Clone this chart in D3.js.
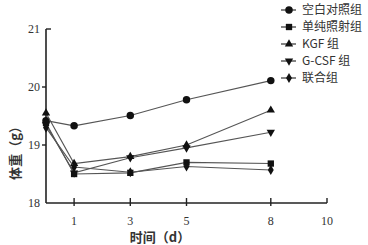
<!DOCTYPE html>
<html>
<head>
<meta charset="utf-8">
<script src="https://cdn.jsdelivr.net/npm/d3@7"></script>
<style>
body { margin: 0; background: #fff; }
svg { display: block; }
</style>
</head>
<body>
<script>
var days = [0, 1, 3, 5, 8];
var xTicks = [1, 3, 5, 8, 10];
var yTicks = [18, 19, 20, 21];
var groupNames = ["空白对照组", "单纯照射组", "KGF 组", "G-CSF 组", "联合组"];
var control = [19.42, 19.33, 19.51, 19.78, 20.11];
var single = [19.38, 18.50, 18.52, 18.70, 18.68];
var kgf = [19.55, 18.68, 18.80, 19.00, 19.60];
var gcsf = [19.35, 18.52, 18.78, 18.95, 19.22];
var combined = [19.30, 18.62, 18.53, 18.63, 18.57];

var series = [control, single, kgf, gcsf, combined];
var symbols = [d3.symbolCircle, d3.symbolSquare, d3.symbolTriangle, "down", d3.symbolDiamond];
var symSize = [44, 40, 30, 30, 30];

var width = 368, height = 245;
var x = d3.scaleLinear().domain([0, 10]).range([46, 327]);
var y = d3.scaleLinear().domain([18, 21]).range([203, 29]);

var svg = d3.select("body").append("svg")
    .attr("width", width)
    .attr("height", height);

var serif = "'Liberation Serif', 'DejaVu Serif', serif";
var cjk = "'Noto Sans CJK SC', sans-serif";

// axes
svg.append("line")
    .attr("x1", x(0)).attr("x2", x(0))
    .attr("y1", y(21)).attr("y2", y(18))
    .style("stroke", "#222").style("stroke-width", 1.6);
svg.append("line")
    .attr("x1", x(0)).attr("x2", x(10))
    .attr("y1", y(18)).attr("y2", y(18))
    .style("stroke", "#222").style("stroke-width", 1.6);

yTicks.forEach(function(t) {
  if (t == 18) return;
  svg.append("line")
      .attr("x1", t == 21 ? x(0) : x(0) - 4)
      .attr("x2", t == 21 ? x(0) + 5 : x(0))
      .attr("y1", y(t)).attr("y2", y(t))
      .style("stroke", "#222").style("stroke-width", 1.4);
});
svg.selectAll(".ylab").data(yTicks).enter().append("text")
    .attr("x", x(0) - 6)
    .attr("y", function(d) { return y(d) + 4; })
    .attr("text-anchor", "end")
    .style("font-family", serif).style("font-size", "12px").style("fill", "#333")
    .text(function(d) { return d; });

xTicks.forEach(function(t) {
  svg.append("line")
      .attr("x1", x(t)).attr("x2", x(t))
      .attr("y1", y(18) - 5).attr("y2", t == 10 ? y(18) : y(18) + 3)
      .style("stroke", "#222").style("stroke-width", 1.4);
});
svg.selectAll(".xlab").data(xTicks).enter().append("text")
    .attr("x", function(d) { return x(d); })
    .attr("y", 225)
    .attr("text-anchor", "middle")
    .style("font-family", serif).style("font-size", "12px").style("fill", "#333")
    .text(function(d) { return d; });

svg.append("text")
    .attr("x", 160).attr("y", 242)
    .attr("text-anchor", "middle")
    .style("font-family", cjk).style("font-size", "13px").style("font-weight", "bold").style("fill", "#333")
    .text("时间（d）");
svg.append("text")
    .attr("transform", "translate(20,150) rotate(-90)")
    .attr("text-anchor", "middle")
    .style("font-family", cjk).style("font-size", "13px").style("font-weight", "bold").style("fill", "#333")
    .text("体重（g）");

var line = d3.line()
    .x(function(d, i) { return x(days[i]); })
    .y(function(d) { return y(d); });

function symPath(k) {
  if (symbols[k] == "down") return d3.symbol().type(d3.symbolTriangle).size(symSize[k])();
  return d3.symbol().type(symbols[k]).size(symSize[k])();
}
function symRot(k) { return symbols[k] == "down" ? " rotate(180)" : ""; }

series.forEach(function(s, k) {
  svg.append("path")
      .attr("d", line(s))
      .style("fill", "none")
      .style("stroke", "#555")
      .style("stroke-width", 1.1);
  svg.selectAll(".m" + k).data(s).enter().append("path")
      .attr("d", symPath(k))
      .attr("transform", function(d, i) {
        return "translate(" + x(days[i]) + "," + y(d) + ")" + symRot(k);
      })
      .style("fill", "#111");
});

// legend
var legend = svg.selectAll(".leg").data(groupNames).enter().append("g")
    .attr("transform", function(d, i) { return "translate(281," + (10 + i * 17) + ")"; });
legend.append("line")
    .attr("x1", 0).attr("x2", 15).attr("y1", 0).attr("y2", 0)
    .style("stroke", "#333").style("stroke-width", 1.2);
legend.append("path")
    .attr("d", function(d, i) { return symPath(i); })
    .attr("transform", function(d, i) { return "translate(8,0)" + symRot(i); })
    .style("fill", "#111");
legend.append("text")
    .attr("x", 21).attr("y", 4)
    .style("font-family", cjk).style("font-size", "12px").style("fill", "#333")
    .text(function(d) { return d; });
</script>
</body>
</html>
